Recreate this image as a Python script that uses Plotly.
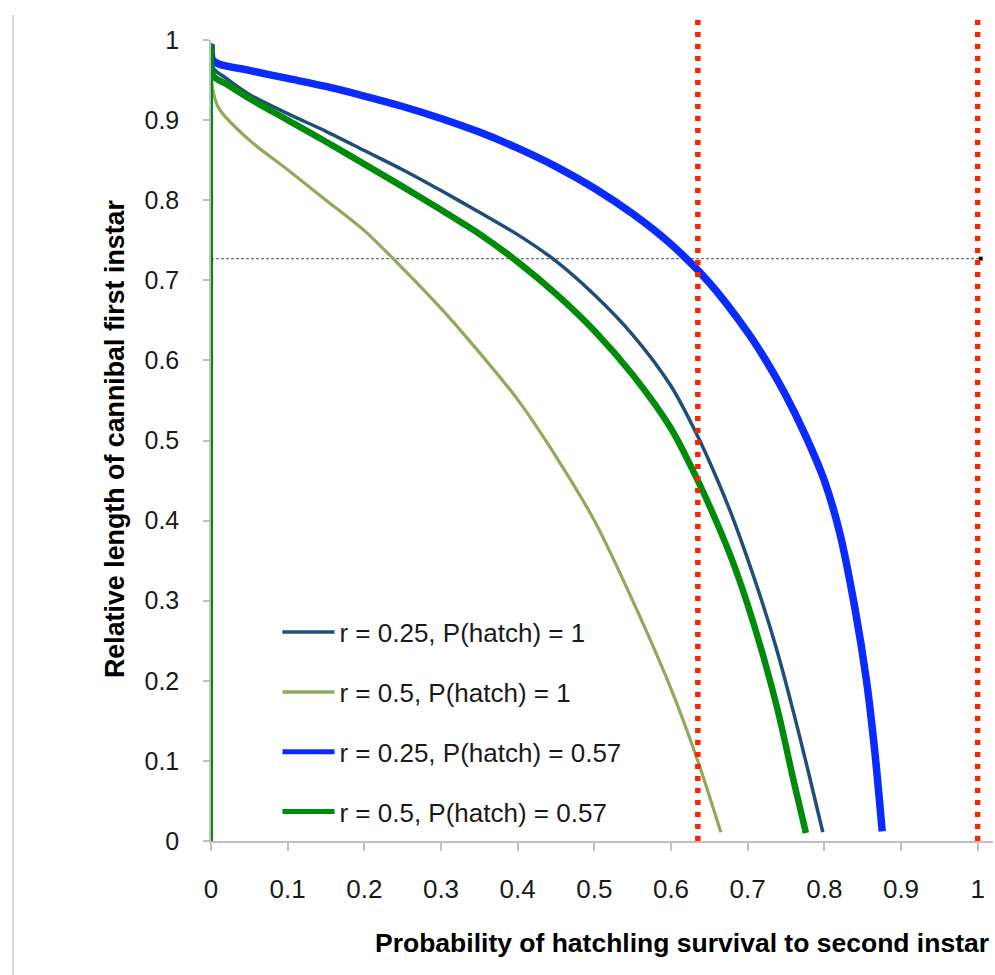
import plotly.graph_objects as go

# ---- data ----
navy_x = [0, 0.003, 0.02, 0.05, 0.1, 0.15, 0.2, 0.25, 0.3, 0.35, 0.4, 0.45, 0.5, 0.55, 0.6, 0.635, 0.66, 0.68, 0.7, 0.72, 0.74, 0.76, 0.78, 0.798]
navy_y = [0.99, 0.965, 0.952, 0.932, 0.908, 0.886, 0.862, 0.838, 0.812, 0.785, 0.757, 0.724, 0.682, 0.632, 0.568, 0.505, 0.452, 0.405, 0.352, 0.295, 0.232, 0.16, 0.083, 0.011]

olive_x = [0, 0.002, 0.01, 0.05, 0.1, 0.15, 0.2, 0.25, 0.3, 0.35, 0.4, 0.45, 0.5, 0.55, 0.6, 0.635, 0.665]
olive_y = [0.99, 0.94, 0.915, 0.875, 0.838, 0.8, 0.762, 0.715, 0.665, 0.61, 0.551, 0.48, 0.4, 0.3, 0.19, 0.1, 0.011]

blue_x = [0, 0.002, 0.01, 0.05, 0.1, 0.15, 0.2, 0.25, 0.3, 0.35, 0.4, 0.45, 0.5, 0.55, 0.6, 0.65, 0.7, 0.725, 0.75, 0.775, 0.8, 0.82, 0.84, 0.855, 0.866, 0.8755]
blue_y = [0.995, 0.975, 0.97, 0.962, 0.952, 0.942, 0.93, 0.917, 0.902, 0.885, 0.865, 0.842, 0.815, 0.783, 0.745, 0.697, 0.635, 0.598, 0.556, 0.507, 0.45, 0.385, 0.29, 0.2, 0.11, 0.012]

green_x = [0, 0.003, 0.02, 0.05, 0.1, 0.15, 0.2, 0.25, 0.3, 0.35, 0.4, 0.45, 0.5, 0.55, 0.6, 0.635, 0.66, 0.68, 0.7, 0.72, 0.74, 0.76, 0.776]
green_y = [0.99, 0.955, 0.945, 0.927, 0.9, 0.873, 0.845, 0.817, 0.788, 0.758, 0.723, 0.683, 0.637, 0.582, 0.515, 0.45, 0.397, 0.35, 0.295, 0.232, 0.16, 0.075, 0.01]

green_vert_x = [0, 0]
green_vert_y = [0, 0.996]

series_names = ["r = 0.25, P(hatch) = 1", "r = 0.5, P(hatch) = 1",
                "r = 0.25, P(hatch) = 0.57", "r = 0.5, P(hatch) = 0.57"]

threshold_x = [0.635, 1.0]
reference_y = 0.727
reference_x_end = 1.004

x_ticks = [0, 0.1, 0.2, 0.3, 0.4, 0.5, 0.6, 0.7, 0.8, 0.9, 1]
x_ticktext = ["0", "0.1", "0.2", "0.3", "0.4", "0.5", "0.6", "0.7", "0.8", "0.9", "1"]
y_ticks = [0, 0.1, 0.2, 0.3, 0.4, 0.5, 0.6, 0.7, 0.8, 0.9, 1]
y_ticktext = ["0", "0.1", "0.2", "0.3", "0.4", "0.5", "0.6", "0.7", "0.8", "0.9", "1"]

FONT = "Liberation Sans, Arial, sans-serif"
NAVY = "#1F4E79"
OLIVE = "#8FAA5A"
BLUE = "#0A2BFF"
GREEN = "#008C0A"

fig = go.Figure()

# horizontal reference line
fig.add_trace(go.Scatter(x=[0, reference_x_end], y=[reference_y, reference_y], mode="lines",
                         line=dict(color="#707070", width=1.4, dash="3px,2px"),
                         showlegend=False, hoverinfo="skip"))
fig.add_trace(go.Scatter(x=[reference_x_end], y=[reference_y], mode="markers",
                         marker=dict(color="#000", size=4, symbol="square"),
                         showlegend=False, hoverinfo="skip", cliponaxis=False))

curves = [(navy_x, navy_y, NAVY, 3.5, 3.5), (olive_x, olive_y, OLIVE, 3.2, 3.5),
          (blue_x, blue_y, BLUE, 7.5, 5.0), (green_x, green_y, GREEN, 6.5, 5.0)]
for i, (xs, ys, col, w, lw) in enumerate(curves):
    fig.add_trace(go.Scatter(x=xs, y=ys, mode="lines", showlegend=False,
                             line=dict(color=col, width=w, shape="spline", smoothing=0.8)))

fig.add_trace(go.Scatter(x=green_vert_x, y=green_vert_y, mode="lines",
                         line=dict(color=GREEN, width=4), showlegend=False, hoverinfo="skip"))

# legend entries (thinner legend strokes, as in the reference)
for i, (xs, ys, col, w, lw) in enumerate(curves):
    fig.add_trace(go.Scatter(x=[None], y=[None], mode="lines", name=series_names[i],
                             legendgroup=f"g{i}", line=dict(color=col, width=lw)))

# red dotted threshold lines
for tx in threshold_x:
    fig.add_shape(type="line", xref="x", yref="paper", x0=tx, x1=tx, y0=0, y1=1.025,
                  line=dict(color="#FF2200", width=5.5, dash="5px,7px"))

# left page border
fig.add_shape(type="line", xref="paper", yref="paper",
              x0=(13 - 211) / 782.3, x1=(13 - 211) / 782.3,
              y0=(841 - 15) / 801, y1=(841 - 975) / 801,
              line=dict(color="#C8C8C8", width=1.5))

fig.update_layout(
    width=995, height=975,
    margin=dict(l=211, r=2, t=40, b=134),
    plot_bgcolor="white", paper_bgcolor="white",
    font=dict(family=FONT, size=20, color="#1a1a1a"),
    showlegend=True,
    legend=dict(x=0.085, y=0.29, xanchor="left", yanchor="top",
                bgcolor="rgba(0,0,0,0)", font=dict(family=FONT, size=26, color="#1a1a1a"),
                tracegroupgap=23, itemwidth=52),
    xaxis=dict(range=[0, 1.02], tickvals=x_ticks, ticktext=x_ticktext,
               showline=True, linecolor="#C0C0C0", linewidth=1.5,
               ticks="outside", ticklen=8, tickcolor="#C0C0C0", tickwidth=1.5,
               showgrid=False, zeroline=False, tickfont=dict(size=26),
               ticklabelstandoff=16),
    yaxis=dict(range=[0, 1], tickvals=y_ticks, ticktext=y_ticktext,
               showline=True, linecolor="#C0C0C0", linewidth=1.5,
               ticks="outside", ticklen=6, tickcolor="#C0C0C0", tickwidth=1.5,
               showgrid=False, zeroline=False, tickfont=dict(size=25),
               ticklabelstandoff=19),
    annotations=[
        dict(text="<b>Relative length of cannibal first instar</b>", textangle=-90,
             xref="paper", yref="paper", x=(115 - 211) / 782.3, y=(841 - 439) / 801,
             xanchor="center", yanchor="middle",
             showarrow=False, font=dict(size=26.8, family=FONT, color="#000")),
        dict(text="<b>Probability of hatchling survival to second instar</b>",
             xref="paper", yref="paper", x=(682 - 211) / 782.3, y=(841 - 943) / 801,
             xanchor="center", yanchor="middle",
             showarrow=False, font=dict(size=26.5, family=FONT, color="#000")),
    ],
)

fig.write_html("out.html")
